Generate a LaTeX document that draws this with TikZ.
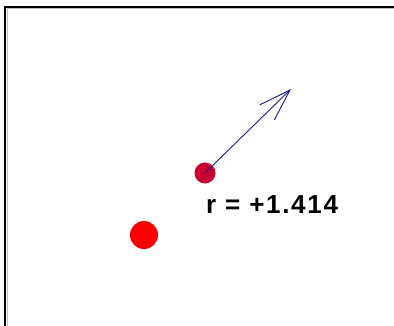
\documentclass[tikz,border=0pt]{standalone}
\usepackage{fontspec}
\setmainfont{Liberation Sans}
\usetikzlibrary{arrows.meta}
\definecolor{dotR}{RGB}{255,0,0}
\definecolor{dotC}{RGB}{200,0,50}
\definecolor{arrB}{RGB}{25,25,140}

\begin{document}
\begin{tikzpicture}[x=1pt,y=-1pt,>={Straight Barb[length=32pt,width=21pt]}]
\useasboundingbox (0,0) rectangle (394,326);
\fill[white] (0,0) rectangle (394,326);
\draw[gray!50,line width=1pt] (7,326)--(7,9)--(394,9); \draw[black,line width=2pt] (5,326)--(5,7)--(394,7);
\node[circle,fill=dotR,minimum size=28pt,inner sep=0pt] (big) at (144,235) {};
\node[circle,fill=dotC,minimum size=21pt,inner sep=0pt] (small) at (205,173) {};
\coordinate (tip) at (291,89);
\draw[->,arrB,line width=0.9pt] (small.center)--(tip);
\node[anchor=west,inner sep=0pt,font=\fontsize{26}{26}\selectfont\bfseries\addfontfeature{LetterSpace=6.5}] (r) at (206,205) {r = +1.414};
\end{tikzpicture}
\end{document}
